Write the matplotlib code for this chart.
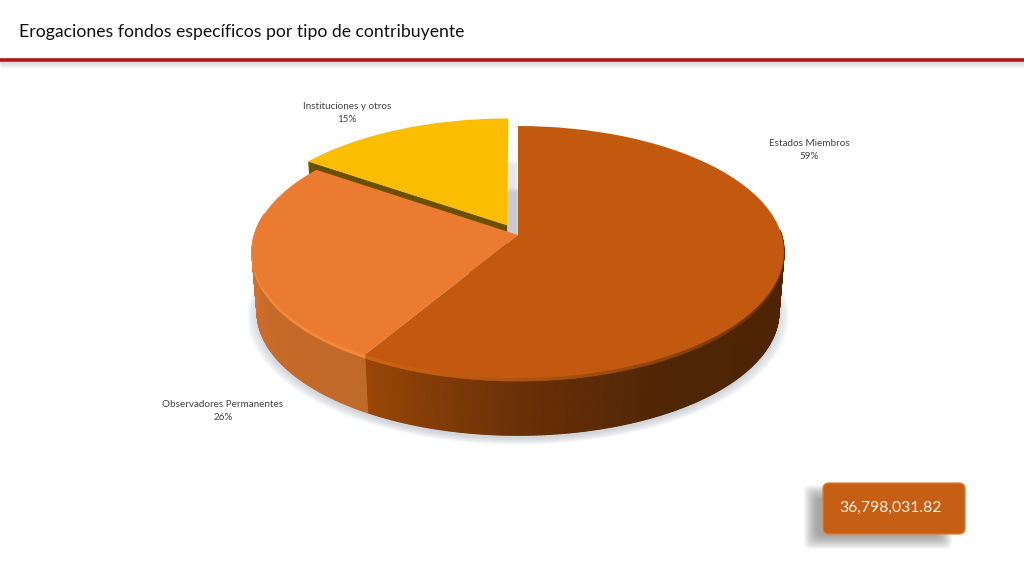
import numpy as np
import matplotlib
matplotlib.use('Agg')
import matplotlib.pyplot as plt
import matplotlib.transforms as mtransforms
from matplotlib.collections import PolyCollection
from matplotlib.colors import LinearSegmentedColormap
from matplotlib.patches import FancyBboxPatch, Polygon

plt.rcParams['font.family'] = ['Lato', 'DejaVu Sans']

# datos
title = 'Erogaciones fondos específicos por tipo de contribuyente'
categories = ['Estados Miembros', 'Observadores Permanentes', 'Instituciones y otros']
shares = [58.6, 26.0, 15.4]
total_label = '36,798,031.82'

top_colors = ['#c2590f', '#ea7b30', '#fbbd00']
explode = [0, 0, 0.09]
label_pos = [(809, 150), (223, 411), (347, 113)]

# geometria de la vista en perspectiva (pixeles)
CX, CY = 518, 235
A, B, K = 123.7, 263.6, 0.135
DEPTH = 60
BOTTOM_SCALE = 0.981


class DiscPerspective(mtransforms.Transform):
    """Lleva el circulo unitario del pie a la elipse vista en perspectiva"""
    input_dims = 2
    output_dims = 2

    def __init__(self, dx=0, dy=0, scale=1.0):
        super().__init__()
        self.dx, self.dy, self.scale = dx, dy, scale

    def transform_non_affine(self, values):
        u, v = values[:, 0], values[:, 1]
        w = 1 + K * v
        return np.column_stack((CX + self.dx + self.scale * B * u / w,
                                CY + self.dy - self.scale * A * v / w))


fig = plt.figure(figsize=(10.24, 5.76), dpi=100)
ax = fig.add_axes([0, 0, 1, 1])


def draw_disc(values, colors, persp, zorder, alpha=1.0, expl=None):
    wedges, _ = ax.pie(values, colors=colors, explode=expl, startangle=90,
                       counterclock=False, wedgeprops={'linewidth': 0})
    for w in wedges:
        w.set_transform(persp + ax.transData)
        w.set_zorder(zorder)
        w.set_alpha(alpha)
    return wedges


# sombra suave bajo el pie
for i in range(18):
    draw_disc([1], ['#a8aeba'], DiscPerspective(dy=DEPTH + 4, scale=0.975 + i * 0.0026),
              zorder=1, alpha=0.03)

# sombra del sector separado, se ve en el hueco
for i in range(5):
    wedges = draw_disc(shares, ['#b4b8c0'] * 3, DiscPerspective(dx=8 + i * 0.5, dy=46 - i),
                       zorder=1, alpha=0.07, expl=explode)
    for w in wedges[:2]:
        w.set_visible(False)

# pared lateral
edges = np.cumsum([0] + shares) / sum(shares) * 360
wall_stops = [
    [(0, '#4a2204'), (150 / 211, '#4e2505'), (180 / 211, '#6a3008'), (1, '#994606')],
    [(0, '#c06a2a'), (0.3, '#c66a28'), (0.6, '#d27030'), (1, '#d27030')],
]
rim_stops = [
    [(0, '#4a2204'), (110 / 211, '#5a2a06'), (170 / 211, '#a64e0e'), (1, '#d0650f')],
    [(0, '#f0893c'), (1, '#f0893c')],
]


def project(theta, dy, scale):
    rad = np.radians(theta)
    pts = np.column_stack((np.sin(rad), np.cos(rad)))
    return DiscPerspective(dy=dy, scale=scale).transform_non_affine(pts)


for i in range(2):
    # solo la parte frontal de la pared
    thetas = np.linspace(max(edges[i], 88), min(edges[i + 1], 280), 240)
    rim_cmap = LinearSegmentedColormap.from_list('rim', rim_stops[i])
    wall_cmap = LinearSegmentedColormap.from_list('wall', wall_stops[i])
    frac = (thetas[:-1] - edges[i]) / (edges[i + 1] - edges[i])

    top = project(thetas, 0, 1.0)
    mid = project(thetas, 3, 0.999)
    low = project(thetas, DEPTH, BOTTOM_SCALE)
    rim_polys = [np.vstack((top[j], top[j + 1], mid[j + 1], mid[j])) for j in range(len(frac))]
    wall_polys = [np.vstack((mid[j], mid[j + 1], low[j + 1], low[j])) for j in range(len(frac))]
    for polys, cmap in ((wall_polys, wall_cmap), (rim_polys, rim_cmap)):
        cols = cmap(frac)
        ax.add_collection(PolyCollection(polys, facecolors=cols, edgecolors=cols,
                                         linewidths=0.8, zorder=3))

# cara de corte del sector amarillo
theta_cut = np.radians(edges[2])
mid_theta = np.radians((edges[2] + edges[3]) / 2)
off = np.array([np.sin(mid_theta), np.cos(mid_theta)]) * explode[2]
cut = np.vstack((off, off + [np.sin(theta_cut), np.cos(theta_cut)]))
cut_top = DiscPerspective().transform_non_affine(cut)
cut_low = DiscPerspective(dy=DEPTH, scale=BOTTOM_SCALE).transform_non_affine(cut)
ax.add_patch(Polygon(np.vstack((cut_top, cut_low[::-1])), closed=True,
                     facecolor='#6b5000', edgecolor='none', zorder=4))

# tapa superior
draw_disc(shares, top_colors, DiscPerspective(), zorder=5, expl=explode)

# etiquetas
for name, share, (lx, ly) in zip(categories, shares, label_pos):
    ax.text(lx, ly, f'{name}\n{share:.0f}%', ha='center', va='center', fontsize=7.1,
            color='#404040', linespacing=1.5, zorder=6)

# cabecera
ax.text(19, 32, title, ha='left', va='center', fontsize=12.66, color='#111111')
for i in range(7):
    ax.plot([0, 1024], [62 + i, 62 + i], color='#808080', lw=1,
            alpha=0.22 * (1 - i / 7), solid_capstyle='butt', zorder=1)
ax.plot([0, 1024], [60, 60], color='#b5121b', lw=2.6, solid_capstyle='butt', zorder=2)

# recuadro del total
for i in range(14):
    grow = 7 - i
    ax.add_patch(FancyBboxPatch((811 - grow, 492 - grow), 134 + 2 * grow, 50 + 2 * grow,
                                boxstyle='round,pad=0,rounding_size=7', facecolor='#5c5c5c',
                                edgecolor='none', alpha=0.05, zorder=2))
ax.add_patch(FancyBboxPatch((823, 483), 142, 51, boxstyle='round,pad=0,rounding_size=6',
                            facecolor='#c55f14', edgecolor='#e07a30', linewidth=0.9, zorder=3))
ax.text(891, 508, total_label, ha='center', va='center', fontsize=11.3,
        color='#fdf1e4', zorder=4)

ax.set_xlim(0, 1024)
ax.set_ylim(576, 0)
ax.set_aspect('auto')
ax.axis('off')

fig.savefig('out.png', dpi=100, facecolor='white')
